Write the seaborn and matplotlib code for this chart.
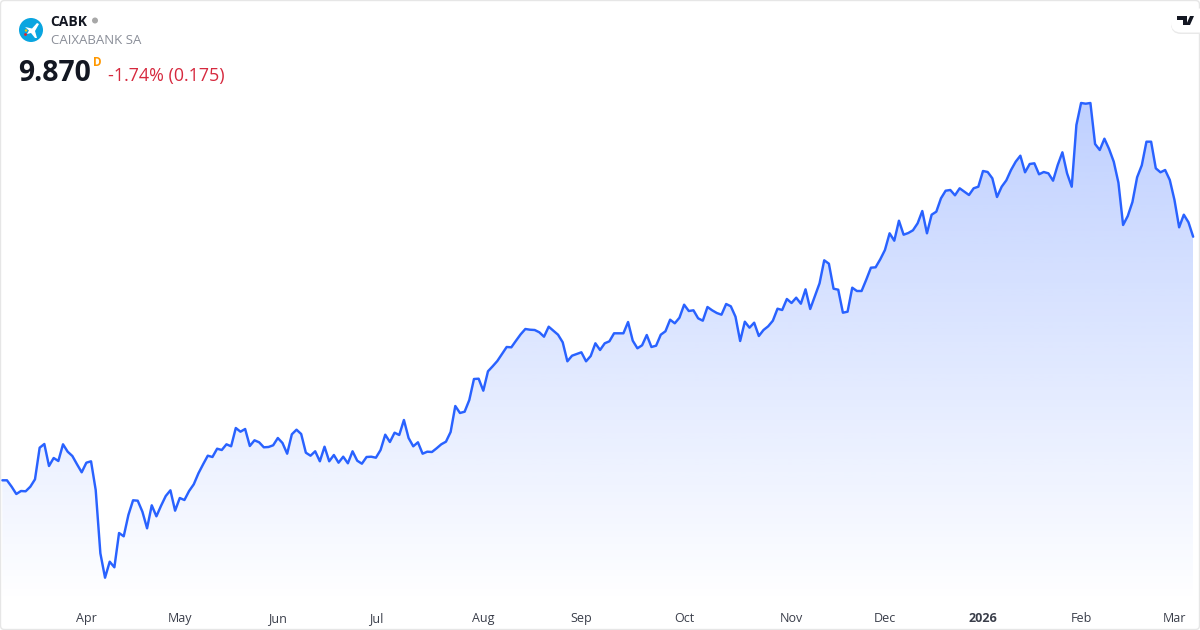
import numpy as np
import pandas as pd
import matplotlib
matplotlib.use("Agg")
import matplotlib.pyplot as plt
from matplotlib.patches import Circle, FancyBboxPatch, Polygon
import seaborn as sns

closes_a = [7.437,7.437,7.373,7.30,7.33,7.327,7.373,7.447,7.763,7.80,7.58,7.66,7.63,7.797,7.723,7.68,7.597,7.517,7.613,7.627,7.34,6.707,6.463,6.623,6.567,6.91,6.877,7.09,7.237,7.233,7.123,6.957,7.187,7.077,7.183,7.28,7.337,7.133,7.26,7.24,7.33,7.397,7.507,7.597,7.683,7.67,7.753,7.74,7.797,7.777,7.96,7.923,7.95,7.78,7.837,7.817,7.767,7.77,7.787,7.86,7.81,7.703,7.897,7.943]
closes_b = [7.90,7.713,7.683,7.727,7.627,7.773,7.627,7.69,7.613,7.673,7.607,7.727,7.633,7.603,7.67,7.673,7.663,7.74,7.893,7.82,7.913,7.89,8.04,7.86,7.777,7.817,7.703,7.723,7.72,7.757,7.797,7.823,7.92,8.18,8.11,8.123,8.24,8.45,8.453,8.333,8.527,8.577,8.63,8.70,8.77,8.767,8.833,8.897,8.95,8.943,8.94,8.917,8.873,8.973,8.933,8.893,8.817,8.627,8.683,8.70,8.717,8.627,8.68,8.807,8.74]
closes_c = [8.807,8.827,8.907,8.907,8.907,9.02,8.833,8.757,8.787,8.89,8.77,8.783,8.893,8.927,9.043,9.007,9.063,9.193,9.13,9.137,9.057,9.033,9.17,9.137,9.11,9.093,9.20,9.177,9.073,8.83,9.023,8.963,9.013,8.88,8.94,8.977,9.033,9.153,9.14,9.25,9.21,9.263,9.203,9.347,9.15,9.28,9.407,9.637,9.603,9.353,9.343,9.113,9.123,9.363,9.33,9.33,9.443,9.563,9.567,9.647,9.74,9.907,9.833,10.033]
closes_d = [9.893,9.91,9.937,10.007,10.13,9.907,10.093,10.123,10.257,10.333,10.34,10.287,10.357,10.323,10.29,10.357,10.373,10.53,10.52,10.457,10.27,10.373,10.437,10.54,10.623,10.683,10.517,10.60,10.607,10.497,10.52,10.507,10.433,10.59,10.717,10.507,10.373,10.99,11.21,11.203,11.21,10.80,10.74,10.853,10.75,10.623,10.413,9.99,10.08,10.22,10.467,10.587,10.823,10.823,10.557,10.517,10.54,10.44,10.24,9.967,10.093,10.017,9.873]
month_labels = ["Apr","May","Jun","Jul","Aug","Sep","Oct","Nov","Dec","2026","Feb","Mar"]
month_sessions = [18,38,59,80,103,124,146,169,189,210,231,251]

closes = closes_a + closes_b + closes_c + closes_d
df = pd.DataFrame({"session": np.arange(len(closes)), "close": closes})

sns.set_theme(style="white")
plt.rcParams["font.family"] = ["Open Sans", "DejaVu Sans"]
W, H = 1200, 630
fig = plt.figure(figsize=(W/100, H/100), dpi=100, facecolor="white")

BOTTOM_PX = 603
ax = fig.add_axes([0, (H-BOTTOM_PX)/H, 1, BOTTOM_PX/H])
ax.set_facecolor("none")
STEP = 4.67
xlims = (-2.3/STEP, (W-2.3)/STEP)
ymax, ymin = 12.24, 12.24-BOTTOM_PX/100

LINE = "#2962FF"
poly = ax.fill_between(df["session"], df["close"], ymin, color="none", lw=0)
n = 400
rgba = np.ones((n, 1, 4))
rgba[:, :, :3] = matplotlib.colors.to_rgb(LINE)
rgba[:, 0, 3] = np.linspace(0.30, 0.0, n)
top_val = max(closes)
im = ax.imshow(rgba, extent=[0, len(closes)-1, ymin, top_val], origin="upper",
               aspect="auto", interpolation="bilinear", zorder=1)
im.set_clip_path(poly.get_paths()[0], transform=ax.transData)

sns.lineplot(data=df, x="session", y="close", ax=ax, color=LINE, lw=1.75,
             errorbar=None, zorder=3, solid_joinstyle="round")
ax.set_xlim(*xlims)
ax.set_ylim(ymin, ymax)
ax.set_xlabel(""); ax.set_ylabel("")
ax.set_yticks([])
ax.set_xticks(month_sessions)
ax.set_xticklabels(month_labels, fontsize=9, color="#3a3e4a")
ax.tick_params(axis="x", length=0, pad=13.7)
for lab in ax.get_xticklabels():
    lab.set_verticalalignment("baseline")
    if lab.get_text() == "2026":
        lab.set_fontweight("bold")
for s in ax.spines.values():
    s.set_visible(False)

# overlay in pixel coordinates for the header, logos and card border
ov = fig.add_axes([0, 0, 1, 1], facecolor="none")
ov.set_xlim(0, W); ov.set_ylim(H, 0); ov.axis("off")
ov.add_patch(FancyBboxPatch((0.5, 0.5), W-1, H-1, boxstyle="round,pad=0,rounding_size=4",
                            fc="none", ec="#e6e6e6", lw=1.0))
ov.add_patch(Circle((31, 30), 12, fc="#0aa5e0", ec="none"))
ov.add_patch(Polygon([(25,27),(32,28.5),(37,23),(39,24),(35,31),(37,38),(35,38),(31,33),(27,34),(29,30.5)], fc="white", ec="none"))
ov.add_patch(Circle((26, 30.5), 1.2, fc="#f6c400", ec="none"))
ov.add_patch(Circle((25.5, 34.5), 1.4, fc="#e3202c", ec="none"))
ov.text(50.5, 21.5, "CABK", fontsize=10, fontweight="bold", color="#131722", va="center", ha="left")
ov.add_patch(Circle((95, 20.5), 3, fc="#a8a8a8", ec="none"))
ov.text(51, 41, "CAIXABANK SA", fontsize=9.5, color="#8a8e98", va="center", ha="left")
ov.text(18.5, 73.5, "9.870", fontsize=20.4, fontweight="bold", color="#131722", va="center", ha="left")
ov.text(93, 62, "D", fontsize=8.5, fontweight="bold", color="#ff9800", va="center", ha="left")
ov.text(108, 76, "-1.74% (0.175)", fontsize=12.85, color="#d6293e", va="center", ha="left")

# attribution badge
ov.add_patch(FancyBboxPatch((1171, 10), 60, 24, boxstyle="round,pad=0,rounding_size=10",
                            fc="#e9e9e9", ec="none"))
ov.add_patch(FancyBboxPatch((1171, 8.5), 60, 24, boxstyle="round,pad=0,rounding_size=10",
                            fc="white", ec="none"))
ov.add_patch(Polygon([(1177,16),(1187,16),(1187,25),(1183,25),(1183,20),(1177,20)], fc="#131722", ec="none"))
ov.add_patch(Polygon([(1190,16),(1194,16),(1190,25),(1186,25)], fc="#131722", ec="none"))

fig.savefig("out.png", dpi=100)
